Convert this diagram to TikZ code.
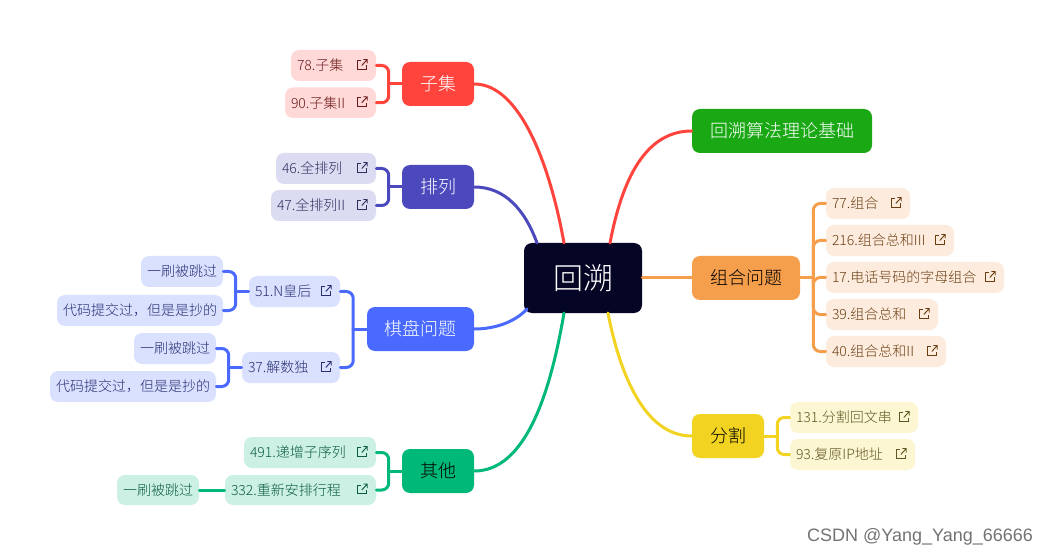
\documentclass[tikz,border=0pt]{standalone}
\usepackage{fontspec}
\setmainfont{Noto Sans CJK SC}[UprightFont=* Light]
\newfontfamily\wm{Liberation Sans}
\definecolor{cRoot}{HTML}{050526}
\definecolor{cRed}{HTML}{FF443D}\definecolor{cRedF}{HTML}{FFD9D8}\definecolor{cRedT}{HTML}{6A1A18}
\definecolor{cPur}{HTML}{4C49BD}\definecolor{cPurF}{HTML}{DBDBF2}\definecolor{cPurT}{HTML}{30305F}
\definecolor{cBlu}{HTML}{4A6AFF}\definecolor{cBluF}{HTML}{DAE1FF}\definecolor{cBluT}{HTML}{252F72}
\definecolor{cGrn}{HTML}{00B877}\definecolor{cGrnF}{HTML}{CCF1E4}\definecolor{cGrnT}{HTML}{0B5B3F}
\definecolor{cThe}{HTML}{1AA815}
\definecolor{cOrg}{HTML}{F59E4B}\definecolor{cOrgF}{HTML}{FDECDE}\definecolor{cOrgT}{HTML}{6B3E12}
\definecolor{cYel}{HTML}{F2D321}\definecolor{cYelF}{HTML}{FCF6D3}\definecolor{cYelT}{HTML}{605520}
\tikzset{
  main/.style={rounded corners=6pt,inner sep=0pt,font=\fontsize{13.5pt}{16pt}\selectfont,align=center},
  leafbox/.style={rounded corners=6pt,inner xsep=4.5pt,inner ysep=0pt,align=left,font=\fontsize{10.5pt}{13pt}\selectfont},
  wire/.style={line width=2.25pt,line cap=round},
  fork/.style={line width=2.25pt,rounded corners=5.25pt,line cap=round},
}
% \boxnode{name}{x0}{x1}{y0}{y1}{style}{text}
\newcommand{\boxnode}[7]{%
  \pgfmathsetmacro{\bw}{(#3-#2)*0.75}\pgfmathsetmacro{\bh}{(#5-#4)*0.75}%
  \pgfmathsetmacro{\cx}{(#2+#3)/2}\pgfmathsetmacro{\cy}{(#4+#5)/2}%
  \node[main,minimum width=\bw pt,minimum height=\bh pt,#6] (#1) at (\cx,\cy) {#7};}
% \leafnode{name}{x0}{x1}{y0}{y1}{fill}{textcolour}{text}
\newcommand{\leafnode}[8]{%
  \pgfmathsetmacro{\bw}{(#3-#2)*0.75}\pgfmathsetmacro{\bh}{(#5-#4)*0.75}\pgfmathsetmacro{\tw}{(#3-#2-12)*0.75}%
  \pgfmathsetmacro{\cx}{(#2+#3)/2}\pgfmathsetmacro{\cy}{(#4+#5)/2}%
  \node[leafbox,fill=#6,text=#7,minimum height=\bh pt,text width=\tw pt] (#1) at (\cx,\cy) {#8};}
% link icon
\newcommand{\linkicon}[2]{%
  \begin{scope}[shift={([xshift=-10.5pt,yshift=0.75pt]#1.east)},draw=#2,line width=0.7pt]
    \draw (-1,-4) -- (-4.5,-4) -- (-4.5,4.5) -- (4.5,4.5) -- (4.5,1);
    \draw (-0.5,1) -- (5,-5) (1,-5) -- (5,-5) -- (5,-1);
  \end{scope}}
\newcommand{\forkleft}[3]{% parent, x of spine offset, leaf
  \draw[fork,#3] (#1) |- (#2.east);}
\newcommand{\forkright}[3]{%
  \draw[fork,#3] (#1) |- (#2.west);}
\begin{document}
\begin{tikzpicture}[x=0.75pt,y=-0.75pt]
\useasboundingbox (0,0) rectangle (1054,556);
\fill[white] (0,0) rectangle (1054,556);

\boxnode{root}{524}{642}{243}{313}{fill=cRoot,text=white,font=\fontsize{22.5pt}{26pt}\selectfont}{回溯}
\boxnode{zj}{402}{474}{62}{106}{fill=cRed,text=white}{子集}
\boxnode{pl}{402}{474}{165}{209}{fill=cPur,text=white}{排列}
\boxnode{qp}{367}{474}{307}{351}{fill=cBlu,text=white}{棋盘问题}
\boxnode{qt}{402}{474}{449}{493}{fill=cGrn,text=black}{其他}
\boxnode{ll}{692}{872}{109}{153}{fill=cThe,text=white}{回溯算法理论基础}
\boxnode{zh}{692}{800}{256}{300}{fill=cOrg,text=black}{组合问题}
\boxnode{fg}{692}{764}{414}{458}{fill=cYel,text=black}{分割}

\leafnode{a1}{291}{376}{50}{81}{cRedF}{cRedT}{78.子集}
\leafnode{a2}{285}{376}{87.5}{118}{cRedF}{cRedT}{90.子集II}
\leafnode{b1}{276}{376}{153}{184}{cPurF}{cPurT}{46.全排列}
\leafnode{b2}{271}{376}{190}{221}{cPurF}{cPurT}{47.全排列II}
\leafnode{c1}{249}{340}{276}{307}{cBluF}{cBluT}{51.N皇后}
\leafnode{c2}{242}{340}{352}{383}{cBluF}{cBluT}{37.解数独}
\leafnode{c11}{141}{223}{256}{287}{cBluF}{cBluT}{一刷被跳过}
\leafnode{c12}{57}{223}{295}{326}{cBluF}{cBluT}{代码提交过，但是是抄的}
\leafnode{c21}{134}{216}{333}{364}{cBluF}{cBluT}{一刷被跳过}
\leafnode{c22}{50}{216}{371}{402}{cBluF}{cBluT}{代码提交过，但是是抄的}
\leafnode{d1}{244}{376}{437}{468}{cGrnF}{cGrnT}{491.递增子序列}
\leafnode{d2}{225}{376}{475}{505}{cGrnF}{cGrnT}{332.重新安排行程}
\leafnode{d21}{117}{199}{475}{505}{cGrnF}{cGrnT}{一刷被跳过}
\leafnode{e1}{826}{910}{188}{219}{cOrgF}{cOrgT}{77.组合}
\leafnode{e2}{826}{954}{225}{256}{cOrgF}{cOrgT}{216.组合总和III}
\leafnode{e3}{826}{1004}{262}{293}{cOrgF}{cOrgT}{17.电话号码的字母组合}
\leafnode{e4}{826}{938}{299}{330}{cOrgF}{cOrgT}{39.组合总和}
\leafnode{e5}{826}{946}{336}{367}{cOrgF}{cOrgT}{40.组合总和II}
\leafnode{f1}{790}{918}{402}{433}{cYelF}{cYelT}{131.分割回文串}
\leafnode{f2}{790}{915}{439}{470}{cYelF}{cYelT}{93.复原IP地址}

\foreach \n/\c in {a1/cRedT,a2/cRedT,b1/cPurT,b2/cPurT,c1/cBluT,c2/cBluT,d1/cGrnT,d2/cGrnT,e1/cOrgT,e2/cOrgT,e3/cOrgT,e4/cOrgT,e5/cOrgT,f1/cYelT,f2/cYelT}{\linkicon{\n}{\c}}

% root connectors
\coordinate (rzj) at (564,243);
\coordinate (rpl) at (537,243);
\coordinate (rqp) at (527,309);
\coordinate (rqt) at (564,313);
\coordinate (rll) at (610,243);
\coordinate (rfg) at (608,313);
\draw[wire,cRed] (zj.east) .. controls (520,84) and (550,165) .. (rzj);
\draw[wire,cPur] (pl.east) .. controls (505,187) and (525,210) .. (rpl);
\draw[wire,cBlu] (qp.east) .. controls (495,329) and (515,322) .. (rqp);
\draw[wire,cGrn] (qt.east) .. controls (525,471) and (550,395) .. (rqt);
\draw[wire,cThe!60!cRed,cRed] (ll.west) .. controls (645,131) and (622,180) .. (rll);
\draw[wire,cOrg] (root.east) -- (zh.west);
\draw[wire,cYel] (fg.west) .. controls (645,436) and (620,375) .. (rfg);

% forks
\draw[wire,cRed] (zj.west) -- ++(-13,0) coordinate (mzj);
\forkleft{mzj}{a1}{cRed}\forkleft{mzj}{a2}{cRed}
\draw[wire,cPur] (pl.west) -- ++(-13,0) coordinate (mpl);
\forkleft{mpl}{b1}{cPur}\forkleft{mpl}{b2}{cPur}
\draw[wire,cBlu] (qp.west) -- ++(-13.5,0) coordinate (mqp);
\forkleft{mqp}{c1}{cBlu}\forkleft{mqp}{c2}{cBlu}
\draw[wire,cBlu] (c1.west) -- ++(-13,0) coordinate (mc1);
\forkleft{mc1}{c11}{cBlu}\forkleft{mc1}{c12}{cBlu}
\draw[wire,cBlu] (c2.west) -- ++(-13,0) coordinate (mc2);
\forkleft{mc2}{c21}{cBlu}\forkleft{mc2}{c22}{cBlu}
\draw[wire,cGrn] (qt.west) -- ++(-13,0) coordinate (mqt);
\forkleft{mqt}{d1}{cGrn}\forkleft{mqt}{d2}{cGrn}
\draw[wire,cGrn] (d2.west) -- (d21.east);
\draw[wire,cOrg] (zh.east) -- ++(13,0) coordinate (mzh);
\foreach \n in {e1,e2,e3,e4,e5}{\forkright{mzh}{\n}{cOrg}}
\draw[wire,cYel] (fg.east) -- ++(13,0) coordinate (mfg);
\forkright{mfg}{f1}{cYel}\forkright{mfg}{f2}{cYel}

\node[font=\wm\fontsize{13.5pt}{16pt}\selectfont,text=black!55,inner sep=0pt] (mark) at (920,537) {CSDN @Yang\_Yang\_66666};
\end{tikzpicture}
\end{document}
